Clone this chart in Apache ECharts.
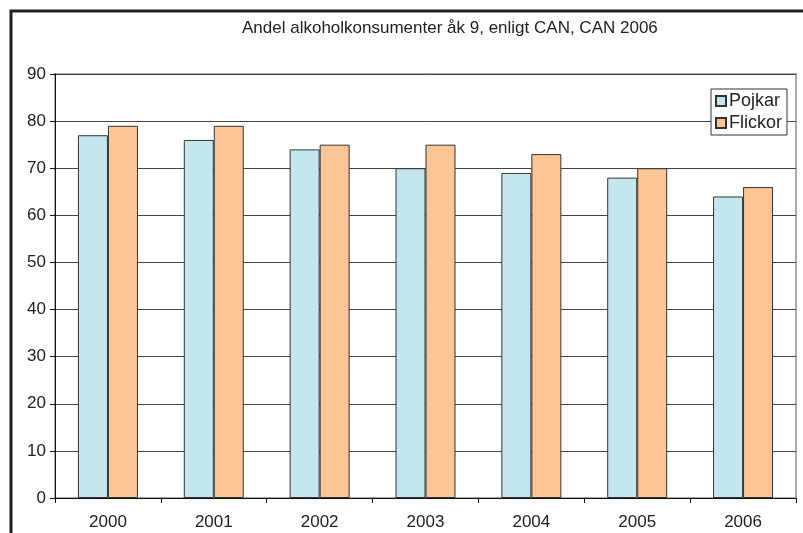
<!DOCTYPE html>
<html>
<head>
<meta charset="utf-8">
<script src="https://cdn.jsdelivr.net/npm/echarts@6/dist/echarts.min.js"></script>
<style>
  html, body { margin: 0; padding: 0; background: #fff; }
  #chart { width: 803px; height: 533px; }
</style>
</head>
<body>
<div id="chart"></div>
<script>
const years = ["2000", "2001", "2002", "2003", "2004", "2005", "2006"];
const pojkar = [77, 76, 74, 70, 69, 68, 64];
const flickor = [79, 79, 75, 75, 73, 70, 66];
const titleText = "Andel alkoholkonsumenter åk 9, enligt CAN, CAN 2006";

const chart = echarts.init(document.getElementById("chart"), null, { renderer: "canvas" });
const font = "Arial, 'Liberation Sans', sans-serif";

chart.setOption({
  animation: false,
  backgroundColor: "#fff",
  textStyle: { fontFamily: font },
  title: {
    text: titleText,
    left: 237,
    top: 15,
    textStyle: { fontSize: 17, fontWeight: "normal", color: "#222", fontFamily: font },
  },
  graphic: [
    {
      type: "polyline",
      shape: { points: [[11, 540], [11, 11], [810, 11]] },
      style: { stroke: "#222", lineWidth: 3, fill: null },
      z: 10,
    },
  ],
  legend: {
    orient: "vertical",
    left: 711,
    top: 89,
    itemWidth: 10,
    itemHeight: 10,
    itemGap: 4,
    padding: [3, 5, 3, 4],
    backgroundColor: "#fff",
    borderColor: "#333",
    borderWidth: 1,
    borderRadius: 0,
    textStyle: { fontSize: 18, color: "#222", fontFamily: font, padding: [0, 0, 0, -2] },
    data: [{ name: "Pojkar", icon: "rect" }, { name: "Flickor", icon: "rect" }],
  },
  grid: {
    left: 55,
    top: 74,
    right: 7,
    bottom: 35,
    show: true,
    borderColor: "#aaa",
    borderWidth: 2,
  },
  xAxis: {
    type: "category",
    data: years,
    boundaryGap: true,
    axisLine: { lineStyle: { color: "#111", width: 1 } },
    axisTick: { show: true, interval: 0, length: 5, inside: false, lineStyle: { color: "#111" } },
    axisLabel: { fontSize: 17, color: "#222", margin: 16, fontFamily: font },
  },
  yAxis: {
    type: "value",
    min: 0,
    max: 90,
    interval: 10,
    axisLine: { show: true, lineStyle: { color: "#111", width: 1 } },
    axisTick: { show: true, length: 5, lineStyle: { color: "#111" } },
    axisLabel: { fontSize: 17, color: "#222", margin: 9, fontFamily: font },
    splitLine: { show: true, lineStyle: { color: "#444", width: 1 } },
  },
  series: [
    {
      name: "Pojkar",
      type: "bar",
      data: pojkar,
      barWidth: 30,
      barGap: "0%",
      itemStyle: { color: "#c4e6ee", borderColor: "#333", borderWidth: 1 },
    },
    {
      name: "Flickor",
      type: "bar",
      data: flickor,
      barWidth: 30,
      itemStyle: { color: "#fbc596", borderColor: "#333", borderWidth: 1 },
    },
  ],
});
</script>
</body>
</html>
